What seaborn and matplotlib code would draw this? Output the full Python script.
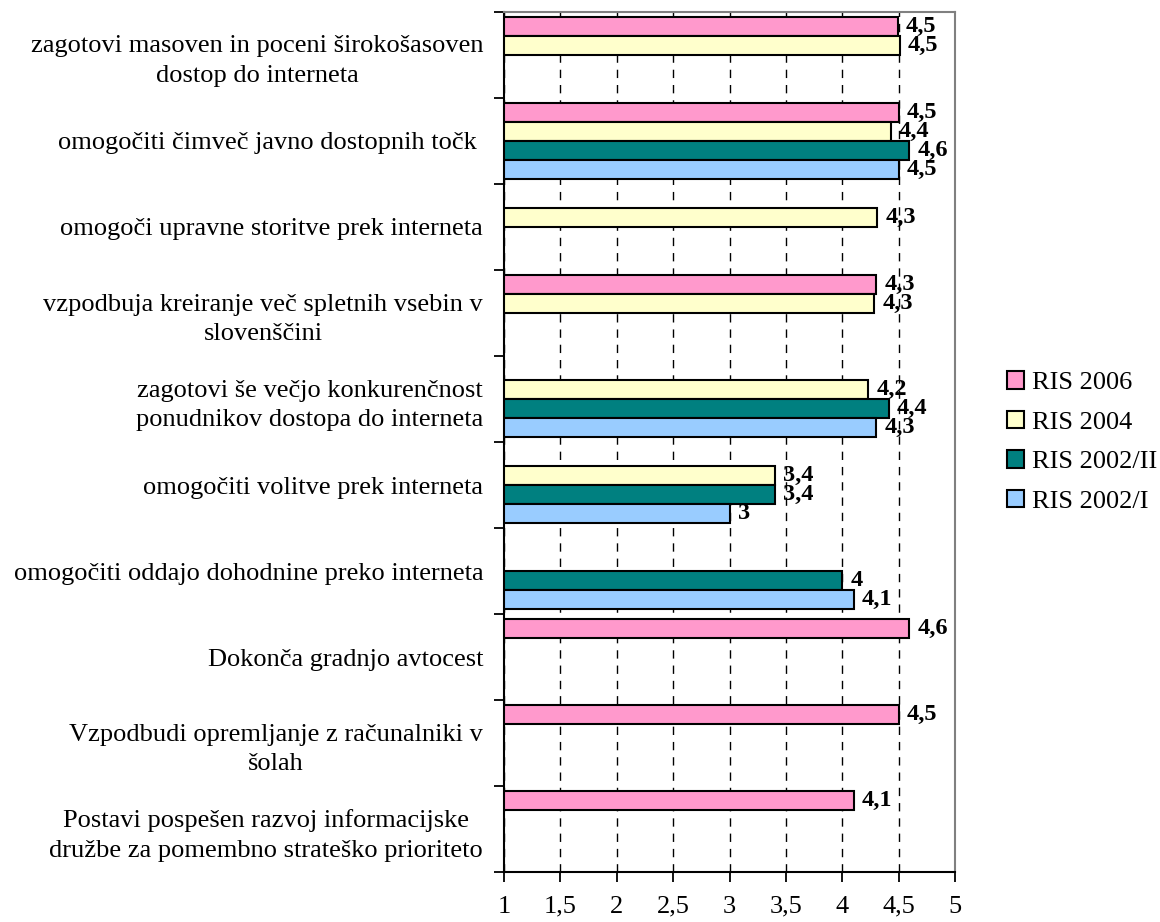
import numpy as np
import pandas as pd
import matplotlib
matplotlib.use("Agg")
import matplotlib.pyplot as plt
import seaborn as sns

sns.set_theme(style="white")
plt.rcParams['font.family'] = ['Liberation Serif', 'DejaVu Serif']
plt.rcParams['text.color'] = 'black'
plt.rcParams['xtick.color'] = 'black'
plt.rcParams['ytick.color'] = 'black'
plt.rcParams['axes.labelcolor'] = 'black'

# ---------- data ----------
categories = [
    "zagotovi masoven in poceni širokošasoven\ndostop do interneta",
    "omogočiti čimveč javno dostopnih točk ",
    "omogoči upravne storitve prek interneta",
    "vzpodbuja kreiranje več spletnih vsebin v\nslovenščini",
    "zagotovi še večjo konkurenčnost\nponudnikov dostopa do interneta",
    "omogočiti volitve prek interneta",
    "omogočiti oddajo dohodnine preko interneta",
    "Dokonča gradnjo avtocest",
    "Vzpodbudi opremljanje z računalniki v\nšolah",
    "Postavi pospešen razvoj informacijske\ndružbe za pomembno strateško prioriteto",
]
series = ["RIS 2006", "RIS 2004", "RIS 2002/II", "RIS 2002/I"]
nan = np.nan
ris_2006 = [4.49, 4.50, nan, 4.30, nan, nan, nan, 4.59, 4.50, 4.10]
ris_2004 = [4.51, 4.43, 4.31, 4.28, 4.23, 3.40, nan, nan, nan, nan]
ris_2002_ii = [nan, 4.59, nan, nan, 4.41, 3.40, 4.00, nan, nan, nan]
ris_2002_i = [nan, 4.50, nan, nan, 4.30, 3.00, 4.10, nan, nan, nan]
colors = ["#FF99CC", "#FFFFCC", "#008080", "#99CCFF"]
x_ticks = [1, 1.5, 2, 2.5, 3, 3.5, 4, 4.5, 5]

df = pd.DataFrame({
    'kategorija': categories * 4,
    'serija': np.repeat(series, len(categories)),
    'ocena': ris_2006 + ris_2004 + ris_2002_ii + ris_2002_i,
}).dropna()

fig = plt.figure(figsize=(11.6, 9.22), dpi=100)
ax = fig.add_axes([0.4345, 0.0542, 0.3888, 0.9328])

sns.barplot(data=df, y='kategorija', x='ocena', hue='serija', order=categories,
            hue_order=series, palette=colors, saturation=1, width=0.889,
            edgecolor='black', linewidth=1.5, orient='h', ax=ax)

def fmt_val(v):
    return f"{round(v, 1):g}".replace('.', ',')

for container in ax.containers:
    ax.bar_label(container, fmt=fmt_val, padding=6, fontsize=17.5,
                 fontweight='bold', color='black')

ax.set_xlim(1, 5)
ax.set_ylim(9.5, -0.5)
ax.set_xticks(x_ticks)
ax.set_xticklabels([f"{t:g}".replace('.', ',') for t in x_ticks], fontsize=19)
ax.set_xlabel('')
ax.set_ylabel('')

# vertical dashed grid
ax.xaxis.grid(True, linestyle=(0, (6, 5)), color='black', linewidth=1)
ax.yaxis.grid(False)
ax.set_axisbelow(True)

# ticks: labels centred on categories, tick marks on boundaries
ax.tick_params(axis='y', which='major', length=0, pad=15, labelsize=19)
ax.set_yticks(np.arange(-0.5, 10, 1), minor=True)
ax.tick_params(axis='y', which='minor', left=True, length=7, width=1.3, color='black')
ax.tick_params(axis='x', which='major', bottom=True, length=7, width=1.3,
               color='black', pad=10)
for lbl in ax.get_yticklabels():
    lbl.set_multialignment('center')
    lbl.set_linespacing(1.45)

for side in ['left', 'bottom']:
    ax.spines[side].set_color('black')
    ax.spines[side].set_linewidth(1.5)
for side in ['top', 'right']:
    ax.spines[side].set_color('#808080')
    ax.spines[side].set_linewidth(1.5)

handles, labels = ax.get_legend_handles_labels()
for h in handles:
    h.set_edgecolor('black')
    h.set_linewidth(1.5)
ax.legend(handles, labels, loc='center left', bbox_to_anchor=(1.115, 0.5),
          frameon=False, fontsize=19, handlelength=0.65, handleheight=0.65,
          handletextpad=0.3, labelspacing=0.62, borderpad=0, borderaxespad=0)

plt.savefig('out.png', dpi=100)
plt.close()
